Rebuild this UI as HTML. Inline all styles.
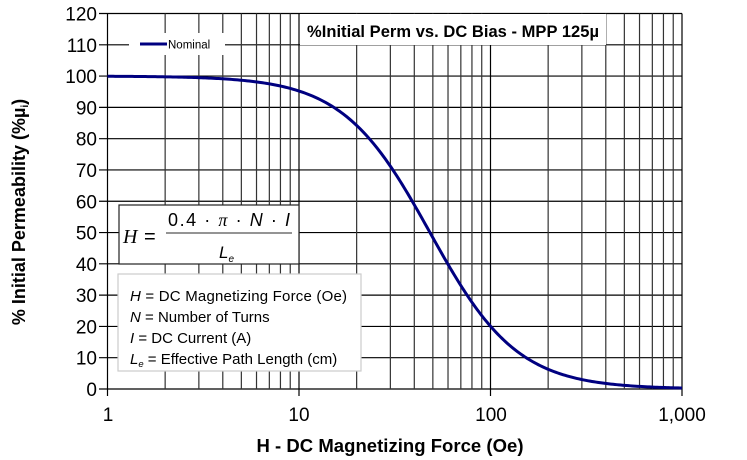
<!DOCTYPE html>
<html><head><meta charset="utf-8"><style>
html,body{margin:0;padding:0;background:#fff;}
svg{display:block;font-family:"Liberation Sans",sans-serif;}
</style></head><body>
<svg id="s" width="747" height="460" viewBox="0 0 747 460" xmlns="http://www.w3.org/2000/svg">
<g id="grid"></g>
<rect x="300" y="14" width="306" height="31" fill="#fff"/>
<text x="307" y="37" font-size="16.5" font-weight="bold" fill="#000" textLength="292">%Initial Perm vs. DC Bias - MPP  125µ</text>
<rect x="129" y="33" width="96" height="22" fill="#fff"/>
<line x1="140" y1="44" x2="167" y2="44" stroke="#000080" stroke-width="3"/>
<text x="168" y="48.5" font-size="11.5">Nominal</text>
<path id="curve" fill="none" stroke="#000080" stroke-width="3"/>
<rect x="119" y="205" width="180" height="59" fill="#fff" stroke="#222" stroke-width="1.2"/>
<text x="123" y="243" font-size="20" font-style="italic" font-family="Liberation Serif,serif">H</text>
<text x="144" y="243" font-size="20">=</text>
<text x="168" y="226" font-size="18" textLength="122">0.4 · <tspan font-style="italic" font-family="Liberation Serif,serif">π</tspan> · <tspan font-style="italic">N</tspan> · <tspan font-style="italic">I</tspan></text>
<line x1="166" y1="233" x2="292" y2="233" stroke="#555" stroke-width="1.2"/>
<text x="219" y="258" font-size="17" font-style="italic">L<tspan font-size="10" dy="4">e</tspan></text>
<rect x="118" y="274" width="243" height="97" fill="#fff" stroke="#ccc" stroke-width="1.2"/>
<g font-size="15">
<text x="130" y="301" textLength="217"><tspan font-style="italic">H</tspan> = DC Magnetizing Force (Oe)</text>
<text x="130" y="322"><tspan font-style="italic">N</tspan> = Number of Turns</text>
<text x="130" y="343"><tspan font-style="italic">I</tspan> = DC Current (A)</text>
<text x="130" y="364"><tspan font-style="italic">L</tspan><tspan font-size="9.5" font-style="italic" dy="3">e</tspan><tspan dy="-3"> = Effective Path Length (cm)</tspan></text>
</g>
<g font-size="19" text-anchor="end" id="ylab"></g>
<g font-size="19" text-anchor="middle">
<text x="108" y="421">1</text><text x="299" y="421">10</text><text x="491" y="421">100</text><text x="682" y="421">1,000</text>
</g>
<text x="390" y="452" font-size="18.5" font-weight="bold" text-anchor="middle" textLength="267">H - DC Magnetizing Force (Oe)</text>
<text transform="translate(25,212) rotate(-90)" font-size="18" font-weight="bold" text-anchor="middle">% Initial Permeability (%µ<tspan font-size="10" dy="3">i</tspan><tspan dy="-3">)</tspan></text>
</svg>
<script>
var X0=107.5,D=191.5,Y0=389,YT=13.5,ky=(Y0-YT)/120;
var g=document.getElementById('grid'),s='';
for(var i=0;i<=12;i++){var y=Y0-i*10*ky;s+='<line x1="99" x2="682" y1="'+y+'" y2="'+y+'" stroke="#000" stroke-width="1.2"/>';}
for(var d=0;d<3;d++)for(var m=1;m<=10;m++){if(m==10&&d<2)continue;var x=X0+D*(d+Math.log10(m));var major=(m==1||m==10);s+='<line y1="'+YT+'" y2="'+(major?396:Y0)+'" x1="'+x+'" x2="'+x+'" stroke="'+(major?'#000':'#333')+'" stroke-width="1.2"/>';}
g.innerHTML=s;
var yl=document.getElementById('ylab'),t='';
for(var i=0;i<=12;i++){t+='<text x="97" y="'+(Y0-i*10*ky+7)+'">'+(i*10)+'</text>';}
yl.innerHTML=t;
var p='';for(var k=0;k<=300;k++){var lx=k/100,H=Math.pow(10,lx);var v=100/(1+Math.pow(H/48.3,1.9));p+=(k?'L':'M')+(X0+D*lx).toFixed(2)+','+(Y0-v*ky).toFixed(2);}
document.getElementById('curve').setAttribute('d',p);
</script>
</body></html>
